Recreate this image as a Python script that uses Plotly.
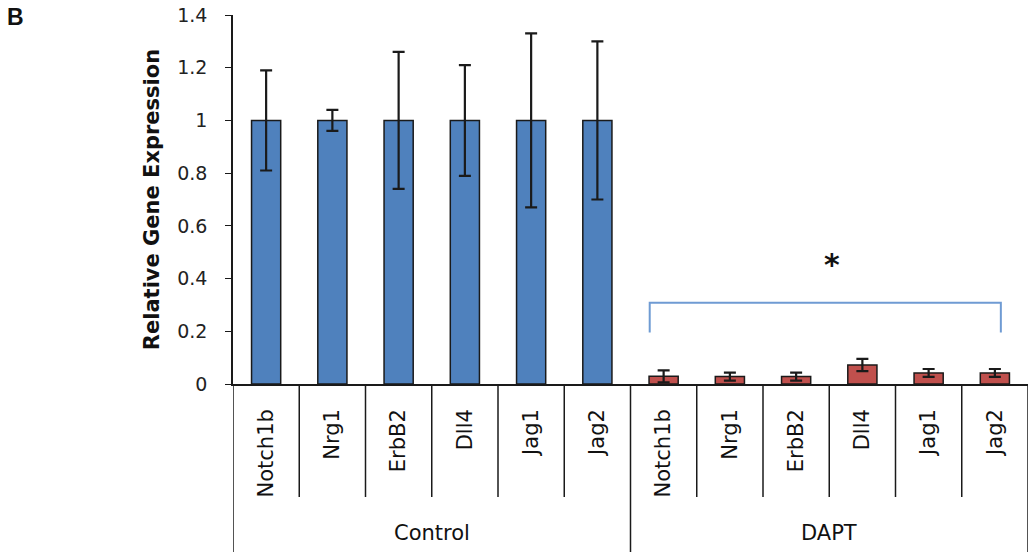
import plotly.graph_objects as go

genes = ["Notch1b", "Nrg1", "ErbB2", "Dll4", "Jag1", "Jag2"]
groups = ["Control", "DAPT"]
control_vals = [1.0, 1.0, 1.0, 1.0, 1.0, 1.0]
control_err = [0.19, 0.04, 0.26, 0.21, 0.33, 0.30]
dapt_vals = [0.029, 0.028, 0.028, 0.072, 0.042, 0.042]
dapt_err = [0.023, 0.015, 0.015, 0.023, 0.015, 0.015]
y_ticks = [0, 0.2, 0.4, 0.6, 0.8, 1.0, 1.2, 1.4]
y_ticktext = ["0", "0.2", "0.4", "0.6", "0.8", "1", "1.2", "1.4"]
bracket_y = 0.308
bracket_drop = 0.195
sig_label = "*"

n = len(genes)
x_ctrl = list(range(n))
x_dapt = list(range(n, 2 * n))

FONT = "DejaVu Sans"
fig = go.Figure()
fig.add_trace(go.Bar(
    x=x_ctrl, y=control_vals, width=0.44,
    marker=dict(color="#4F81BD", line=dict(color="#1a1a1a", width=1.5)),
    error_y=dict(type="data", array=control_err, color="#1a1a1a", thickness=2.2, width=6),
    showlegend=False,
))
fig.add_trace(go.Bar(
    x=x_dapt, y=dapt_vals, width=0.44,
    marker=dict(color="#C0504D", line=dict(color="#1a1a1a", width=1.5)),
    error_y=dict(type="data", array=dapt_err, color="#1a1a1a", thickness=2.2, width=6),
    showlegend=False,
))

# axis geometry: plot area bottom at pixel 384, height 369
H = 369.0
def py(px):
    return (384 - px) / H

shapes = []
for k in range(2 * n + 1):
    xb = k - 0.5
    long_line = (k % n == 0)
    shapes.append(dict(type="line", xref="x", yref="paper", x0=xb, x1=xb,
                       y0=0, y1=py(552) if long_line else py(497),
                       line=dict(color="#1a1a1a", width=1.5)))
x_left = n - 0.21
x_right = 2 * n - 0.91
shapes.append(dict(type="path", xref="x", yref="y",
                   path=f"M {x_left} {bracket_drop} L {x_left} {bracket_y} L {x_right} {bracket_y} L {x_right} {bracket_drop}",
                   line=dict(color="#6F9BD3", width=2)))

annotations = []
for gi, g in enumerate(groups):
    annotations.append(dict(x=gi * n + (n - 1) / 2, y=py(533), xref="x", yref="paper",
                            text=g, showarrow=False, font=dict(family=FONT, size=21, color="#111"),
                            xanchor="center", yanchor="middle"))
annotations.append(dict(x=(x_left + x_right) / 2 + 0.1, y=0.455, xref="x", yref="y", text="<b>" + sig_label + "</b>",
                        showarrow=False, font=dict(family=FONT, size=30, color="#111"),
                        xanchor="center", yanchor="middle"))
annotations.append(dict(x=(15 - 233) / 795.0, y=py(17), xref="paper", yref="paper", text="<b>B</b>",
                        showarrow=False, font=dict(family="Liberation Sans", size=23, color="#111"),
                        xanchor="center", yanchor="middle"))

fig.update_layout(
    width=1032, height=552,
    margin=dict(l=233, r=4, t=15, b=168, autoexpand=False),
    plot_bgcolor="white", paper_bgcolor="white",
    shapes=shapes, annotations=annotations,
    xaxis=dict(range=[-0.5, 2 * n - 0.5], tickvals=x_ctrl + x_dapt, ticktext=genes + genes,
               tickangle=-90, ticks="", showline=True, linecolor="#1a1a1a", linewidth=1.5,
               showgrid=False, zeroline=False, ticklabelstandoff=15,
               tickfont=dict(family=FONT, size=21, color="#111")),
    yaxis=dict(range=[0, 1.4], tickvals=y_ticks, ticktext=y_ticktext,
               ticks="outside", ticklen=6, tickcolor="#1a1a1a", showline=True,
               linecolor="#1a1a1a", linewidth=1.5, showgrid=False, zeroline=False,
               ticklabeloverflow="allow",
               tickfont=dict(family=FONT, size=19, color="#222"), ticklabelstandoff=14,
               title=dict(text="<b>Relative Gene Expression</b>", standoff=12,
                          font=dict(family=FONT, size=21, color="#111"))),
    bargap=0.56,
)
fig.write_html("out.html", config={"displayModeBar": False},
               post_script="document.body.style.margin='0';document.body.style.overflow='hidden';")
